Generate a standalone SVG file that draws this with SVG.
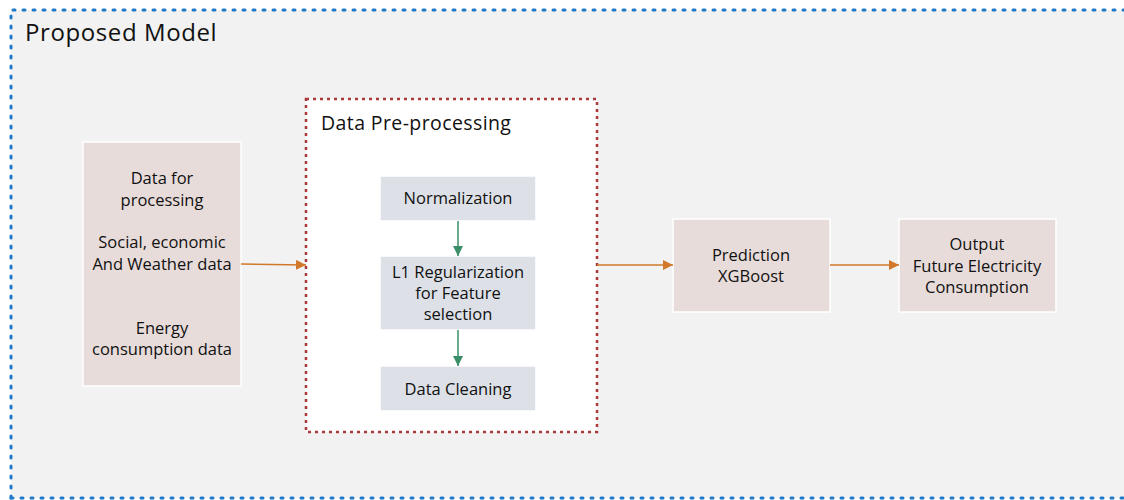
<svg xmlns="http://www.w3.org/2000/svg" width="1124" height="500" viewBox="0 0 1124 500">
<style>
text{font-family:"Open Sans","Noto Sans","DejaVu Sans",sans-serif;fill:#111;}
.t{font-size:16.5px;text-anchor:middle;}
.pink{fill:#e7dcda;stroke:#ffffff;stroke-width:1.5;}
.blue{fill:#dde1e7;stroke:#ffffff;stroke-width:1.5;}
.or{stroke:#d2782a;stroke-width:1.5;fill:none;}
.gr{stroke:#3a8f68;stroke-width:1.5;fill:none;}
.bd{fill:none;stroke:#1f78c8;stroke-width:3;stroke-dasharray:2 8;stroke-linecap:round;}
</style>
<defs>
<marker id="ao" viewBox="0 0 10 10" refX="10" refY="5" markerWidth="10" markerHeight="10" markerUnits="userSpaceOnUse" orient="auto"><path d="M0,0 L10,5 L0,10 z" fill="#d2782a"/></marker>
<marker id="ag" viewBox="0 0 10 10" refX="10" refY="5" markerWidth="10" markerHeight="10" markerUnits="userSpaceOnUse" orient="auto"><path d="M0,0 L10,5 L0,10 z" fill="#3a8f68"/></marker>
</defs>
<rect x="0" y="0" width="1124" height="500" fill="#ffffff"/>
<g id="proposed-model">
<rect x="11" y="10" width="1130" height="488" fill="#f2f2f2"/>
<path class="bd" d="M11,498 L11,10 L1124,10"/>
<path class="bd" d="M11,498 L1124,498"/>
<text x="25" y="41" style="font-size:24px;letter-spacing:0.6px">Proposed Model</text>
</g>
<g id="data-input">
<rect class="pink" x="83" y="142" width="158" height="244"/>
<text class="t" x="162" y="184">Data for</text>
<text class="t" x="162" y="206">processing</text>
<text class="t" x="162" y="248">Social, economic</text>
<text class="t" x="162" y="270">And Weather data</text>
<text class="t" x="162" y="334">Energy</text>
<text class="t" x="162" y="355">consumption data</text>
</g>
<g id="data-preprocessing">
<rect x="306" y="99" width="291" height="333" fill="#ffffff" stroke="#a83a3a" stroke-width="2.5" stroke-dasharray="3 4"/>
<text x="321" y="130" style="font-size:19.5px;letter-spacing:0.4px">Data Pre-processing</text>
</g>
<g id="normalization">
<rect class="blue" x="380" y="176" width="156" height="45"/>
<text class="t" x="458" y="204">Normalization</text>
</g>
<g id="l1-regularization">
<rect class="blue" x="380" y="256" width="156" height="74"/>
<text class="t" x="458" y="278">L1 Regularization</text>
<text class="t" x="458" y="299">for Feature</text>
<text class="t" x="458" y="320">selection</text>
</g>
<g id="data-cleaning">
<rect class="blue" x="380" y="366" width="156" height="45"/>
<text class="t" x="458" y="395">Data Cleaning</text>
</g>
<g id="prediction">
<rect class="pink" x="673" y="219" width="157" height="93"/>
<text class="t" x="751" y="261">Prediction</text>
<text class="t" x="751" y="282">XGBoost</text>
</g>
<g id="output">
<rect class="pink" x="899" y="219" width="157" height="93"/>
<text class="t" x="977" y="250">Output</text>
<text class="t" x="977" y="272">Future Electricity</text>
<text class="t" x="977" y="293">Consumption</text>
</g>
<g id="connectors">
<line class="or" x1="241" y1="264" x2="306" y2="265" marker-end="url(#ao)"/>
<line class="or" x1="597" y1="265" x2="673" y2="265" marker-end="url(#ao)"/>
<line class="or" x1="830" y1="265" x2="899" y2="265" marker-end="url(#ao)"/>
<line class="gr" x1="458" y1="221" x2="458" y2="256" marker-end="url(#ag)"/>
<line class="gr" x1="458" y1="330" x2="458" y2="366" marker-end="url(#ag)"/>
</g>
</svg>
